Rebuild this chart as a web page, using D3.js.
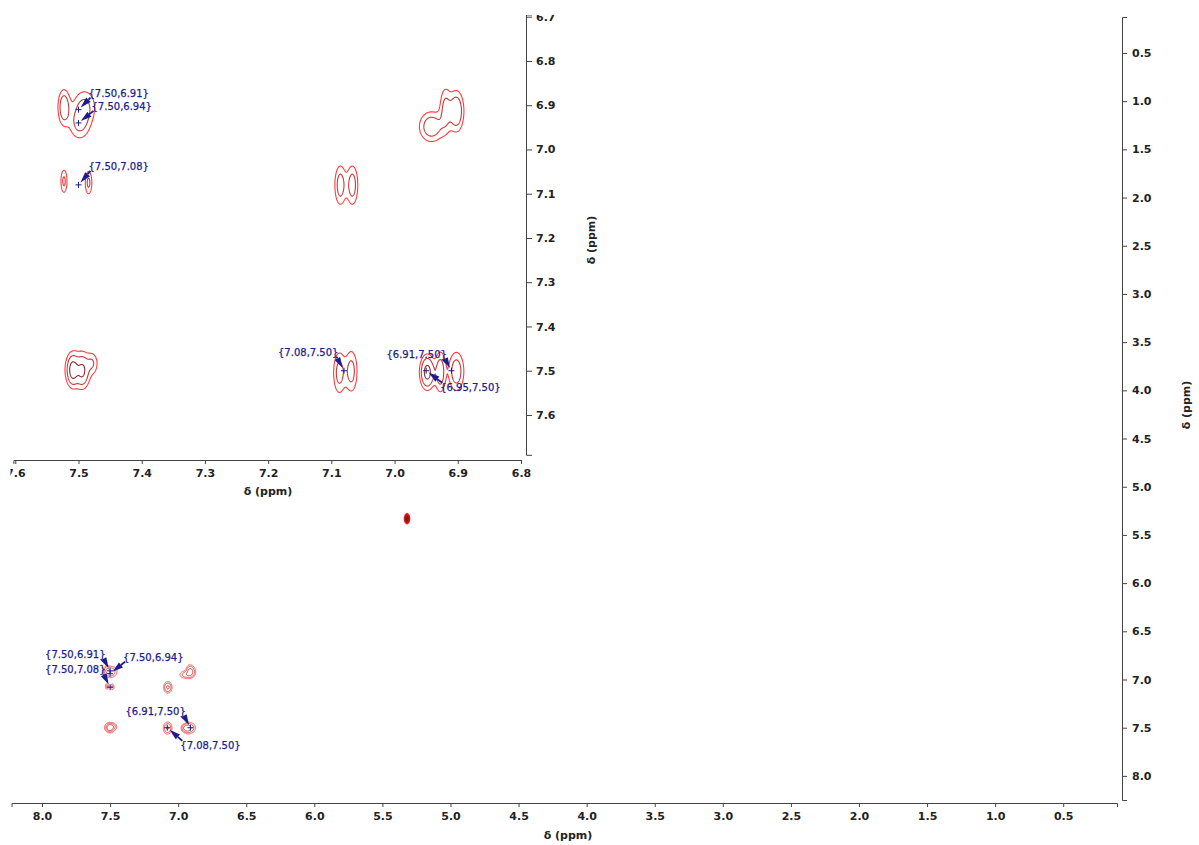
<!DOCTYPE html>
<html>
<head>
<meta charset="utf-8">
<script src="https://cdn.jsdelivr.net/npm/d3@7"></script>
<style>
  html, body { margin: 0; padding: 0; background: #fff; }
  svg { display: block; }
  .tick text { font-family: "DejaVu Sans", Verdana, sans-serif; font-weight: bold; font-size: 11px; fill: #222; }
  .axisTitle { font-family: "DejaVu Sans", Verdana, sans-serif; font-weight: bold; font-size: 11px; fill: #222; }
  .ann { font-family: "DejaVu Sans", Verdana, sans-serif; font-size: 10px; fill: #1c1c8c; stroke: #1c1c8c; stroke-width: 0.25px; }
</style>
</head>
<body>
<svg id="chart" width="1199" height="845"></svg>
<script>
// ---------------- DATA (ppm values) ----------------
// Main axis tick labels
const mainXTicks = [8.0, 7.5, 7.0, 6.5, 6.0, 5.5, 5.0, 4.5, 4.0, 3.5, 3.0, 2.5, 2.0, 1.5, 1.0, 0.5];
const mainYTicks = [0.5, 1.0, 1.5, 2.0, 2.5, 3.0, 3.5, 4.0, 4.5, 5.0, 5.5, 6.0, 6.5, 7.0, 7.5, 8.0];
// Inset axis tick labels
const insetXTicks = [7.6, 7.5, 7.4, 7.3, 7.2, 7.1, 7.0, 6.9, 6.8];
const insetYTicks = [6.7, 6.8, 6.9, 7.0, 7.1, 7.2, 7.3, 7.4, 7.5, 7.6];

// Cross peaks: F2 (ppm), F1 (ppm), intensity, width F2 (ppm), width F1 (ppm)
const peakF2  = [7.5234, 7.4910, 7.4990, 7.5234, 7.4845, 6.9200, 6.9027, 6.9420, 7.0862, 7.0672, 7.5095, 7.4945, 7.4790, 7.5000, 7.0878, 7.0688, 6.9486, 6.9280, 6.9027, 5.3200];
const peakF1  = [6.9040, 6.9030, 6.9420, 7.0712, 7.0745, 6.9085, 6.9130, 6.9480, 7.0800, 7.0800, 7.4980, 7.5000, 7.4820, 7.4960, 7.5040, 7.5006, 7.5028, 7.5020, 7.5010, 5.3300];
const peakInt = [3.3,    2.3,    2.2,    2.3,    2.3,    2.4,    3.6,    3.2,    2.8,    2.8,    4.5,    3.4,    1.6,    1.3,    2.6,    2.6,    5.0,    3.0,    3.0,    40];
const peakWF2 = [0.0061, 0.0120, 0.0110, 0.0037, 0.0040, 0.0060, 0.0075, 0.0125, 0.0060, 0.0060, 0.0055, 0.0060, 0.0060, 0.0180, 0.0065, 0.0065, 0.0070, 0.0055, 0.0080, 0.0032];
const peakWF1 = [0.0255, 0.0260, 0.0240, 0.0193, 0.0195, 0.0330, 0.0290, 0.0220, 0.0300, 0.0300, 0.0200, 0.0210, 0.0150, 0.0350, 0.0320, 0.0320, 0.0230, 0.0300, 0.0290, 0.0180];

// Peak-picking annotations {F2,F1}
const insetAnnText = ["{7.50,6.91}", "{7.50,6.94}", "{7.50,7.08}", "{7.08,7.50}", "{6.91,7.50}", "{6.95,7.50}"];
const insetAnnF2   = [7.50, 7.50, 7.50, 7.08, 6.91, 6.95];
const insetAnnF1   = [6.91, 6.94, 7.08, 7.50, 7.50, 7.50];
const mainAnnText  = ["{7.50,6.91}", "{7.50,6.94}", "{7.50,7.08}", "{6.91,7.50}", "{7.08,7.50}"];
const mainAnnF2    = [7.50, 7.50, 7.50, 6.91, 7.08];
const mainAnnF1    = [6.91, 6.94, 7.08, 7.50, 7.50];

// ---------------- LAYOUT (pixels) ----------------
// label anchor offsets relative to the annotated point: [text x offset, baseline offset, text-anchor]
const insetAnnLayout = [[10, -13, "start"], [13, -13, "start"], [10, -15, "start"], [-66, -15, "start"], [-65, -13, "start"], [14, 20, "start"]];
const mainAnnLayout  = [[-65, -13, "start"], [13, -13, "start"], [-65, -14, "start"], [-65, -13, "start"], [13, 21, "start"]];

const svg = d3.select("#chart");
const navy = "#1c1c8c";
const axisColor = "#444";

// ---------------- SCALES ----------------
const xMain = d3.scaleLinear().domain([8.224, 0.105]).range([11.5, 1117]);
const yMain = d3.scaleLinear().domain([0.127, 8.25]).range([17, 800]);
const xIns  = d3.scaleLinear().domain([7.603, 6.8]).range([13.4, 521]);
const yIns  = d3.scaleLinear().domain([6.695, 7.69]).range([14.5, 454.8]);

// ---------------- CONTOURS ----------------
function drawPeaks(g, xs, ys, f2range, f1range, step, thresholds, colors, wScaleX, wScaleY, widths) {
  const px0 = xs(f2range[1]), px1 = xs(f2range[0]);
  const py0 = ys(f1range[0]), py1 = ys(f1range[1]);
  const nx = Math.ceil((px1 - px0) / step), ny = Math.ceil((py1 - py0) / step);
  const vals = new Float64Array(nx * ny);
  for (let k = 0; k < peakF2.length; k++) {
    const sx = peakWF2[k] * wScaleX, sy = peakWF1[k] * wScaleY;
    const cx = xs(peakF2[k]), cy = ys(peakF1[k]);
    const sxp = Math.abs(xs(peakF2[k] + sx) - cx), syp = Math.abs(ys(peakF1[k] + sy) - cy);
    const i0 = Math.max(0, Math.floor((cx - 5 * sxp - px0) / step)), i1 = Math.min(nx - 1, Math.ceil((cx + 5 * sxp - px0) / step));
    const j0 = Math.max(0, Math.floor((cy - 5 * syp - py0) / step)), j1 = Math.min(ny - 1, Math.ceil((cy + 5 * syp - py0) / step));
    for (let j = j0; j <= j1; j++) {
      const Y = ys.invert(py0 + j * step);
      const dy = (Y - peakF1[k]) / sy;
      for (let i = i0; i <= i1; i++) {
        const X = xs.invert(px0 + i * step);
        const dx = (X - peakF2[k]) / sx;
        vals[j * nx + i] += peakInt[k] * Math.exp(-0.5 * (dx * dx + dy * dy));
      }
    }
  }
  const cs = d3.contours().size([nx, ny]).thresholds(thresholds)(vals);
  const proj = d3.geoTransform({ point: function (x, y) { this.stream.point(px0 + x * step, py0 + y * step); } });
  const path = d3.geoPath(proj);
  g.selectAll("path.ct").data(cs).join("path")
    .attr("class", "ct")
    .attr("d", path)
    .attr("fill", (d, i) => widths.fill ? colors[i] : "none")
    .attr("stroke", (d, i) => colors[i])
    .attr("stroke-width", widths.sw);
}

// ---------------- ANNOTATIONS ----------------
function drawAnn(g, xs, ys, texts, f2s, f1s, layout) {
  texts.forEach((t, k) => {
    const px = xs(f2s[k]), py = ys(f1s[k]);
    const [dx, dy, anchor] = layout[k];
    const tx = px + dx, ty = py + dy;
    const txt = g.append("text").attr("class", "ann").attr("x", tx).attr("y", ty).attr("text-anchor", anchor).text(t);
    const bb = txt.node().getBBox();
    const sx = px < bb.x ? bb.x + 2 : (px > bb.x + bb.width ? bb.x + bb.width - 2 : bb.x + bb.width / 2);
    const sy = py < bb.y ? bb.y + 1 : bb.y + bb.height - 1;
    const ang = Math.atan2(py - sy, px - sx);
    const len = Math.hypot(px - sx, py - sy);
    const tipL = Math.max(len - 3, 4);
    const ca = Math.cos(ang), sa = Math.sin(ang);
    const tip = [sx + ca * tipL, sy + sa * tipL];
    const baseL = Math.max(tipL - 11, 0);
    const base = [sx + ca * baseL, sy + sa * baseL];
    const w = 3.2;
    g.append("path")
      .attr("d", `M${sx},${sy}L${base[0]},${base[1]}`)
      .attr("stroke", navy).attr("stroke-width", 1.8).attr("fill", "none");
    g.append("path")
      .attr("d", `M${base[0] - sa * w},${base[1] + ca * w}L${tip[0]},${tip[1]}L${base[0] + sa * w},${base[1] - ca * w}Z`)
      .attr("fill", navy);
    g.append("path")
      .attr("d", `M${px - 3},${py}H${px + 3}M${px},${py - 3}V${py + 3}`)
      .attr("stroke", navy).attr("stroke-width", 1).attr("fill", "none");
  });
}

// ---------------- MAIN PLOT ----------------
const gMain = svg.append("g");
const gx = gMain.append("g").attr("transform", "translate(0,803)");
gx.call(d3.axisBottom(xMain).tickValues(d3.range(0.25, 8.25, 0.25)).tickSize(3.5).tickFormat(""));
gx.call(d3.axisBottom(xMain).tickValues(mainXTicks).tickSize(4).tickPadding(5).tickFormat(d3.format(".1f")));
gx.selectAll("path.domain").attr("stroke", axisColor);
gx.selectAll("line").attr("stroke", axisColor);
gMain.append("text").attr("class", "axisTitle").attr("x", 568).attr("y", 839).attr("text-anchor", "middle").text("δ (ppm)");
const gy = gMain.append("g").attr("transform", "translate(1122,0)");
gy.call(d3.axisRight(yMain).tickValues(d3.range(0.25, 8.25, 0.25)).tickSize(3.5).tickFormat(""));
gy.call(d3.axisRight(yMain).tickValues(mainYTicks).tickSize(5).tickPadding(5).tickFormat(d3.format(".1f")));
gy.selectAll("path.domain").attr("stroke", axisColor);
gy.selectAll("line").attr("stroke", axisColor);
gMain.append("text").attr("class", "axisTitle")
  .attr("transform", "translate(1190,405) rotate(-90)").attr("text-anchor", "middle").text("δ (ppm)");

const gMainPk = gMain.append("g");
drawPeaks(gMainPk, xMain, yMain, [6.75, 7.65], [6.75, 7.65], 0.25, [1, 2, 4],
  ["#ff3b3b", "#d83434", "#a02a2a"], 2.4, 1.15, { sw: 0.9, fill: false });
const gSolv = gMain.append("g");
drawPeaks(gSolv, xMain, yMain, [5.2, 5.45], [5.2, 5.45], 0.25, [1, 2, 4, 8, 16, 30],
  ["#ff3030", "#e02020", "#cc1a1a", "#b81818", "#a01414", "#8a1010"], 2.4, 1.15, { sw: 0.8, fill: true });
drawAnn(gMain, xMain, yMain, mainAnnText, mainAnnF2, mainAnnF1, mainAnnLayout);

// ---------------- INSET ----------------
svg.append("defs").append("clipPath").attr("id", "insetClip")
  .append("rect").attr("x", 10.5).attr("y", 15).attr("width", 620).attr("height", 490);
const gIn = svg.append("g").attr("clip-path", "url(#insetClip)");
const gix = gIn.append("g").attr("transform", "translate(0,460)");
gix.call(d3.axisBottom(xIns).tickValues(d3.range(6.8, 7.601, 0.05)).tickSize(3.5).tickFormat(""));
gix.call(d3.axisBottom(xIns).tickValues(insetXTicks).tickSize(4).tickPadding(5).tickFormat(d3.format(".1f")));
gix.selectAll("path.domain").attr("stroke", axisColor);
gix.selectAll("line").attr("stroke", axisColor);
gIn.append("text").attr("class", "axisTitle").attr("x", 268).attr("y", 495).attr("text-anchor", "middle").text("δ (ppm)");
const giy = gIn.append("g").attr("transform", "translate(526,0)");
giy.call(d3.axisRight(yIns).tickValues(d3.range(6.7, 7.69, 0.05)).tickSize(3.5).tickFormat(""));
giy.call(d3.axisRight(yIns).tickValues(insetYTicks).tickSize(6).tickPadding(4).tickFormat(d3.format(".1f")));
giy.selectAll("path.domain").attr("stroke", axisColor);
giy.selectAll("line").attr("stroke", axisColor);
gIn.append("text").attr("class", "axisTitle")
  .attr("transform", "translate(595,240) rotate(-90)").attr("text-anchor", "middle").text("δ (ppm)");

const gInPk = gIn.append("g");
drawPeaks(gInPk, xIns, yIns, [6.8, 7.603], [6.695, 7.69], 0.5, [1, 2, 4],
  ["#ff3b3b", "#c43a3a", "#8a2b2b"], 1, 1, { sw: 1.1, fill: false });
drawAnn(gIn, xIns, yIns, insetAnnText, insetAnnF2, insetAnnF1, insetAnnLayout);
</script>
</body>
</html>
